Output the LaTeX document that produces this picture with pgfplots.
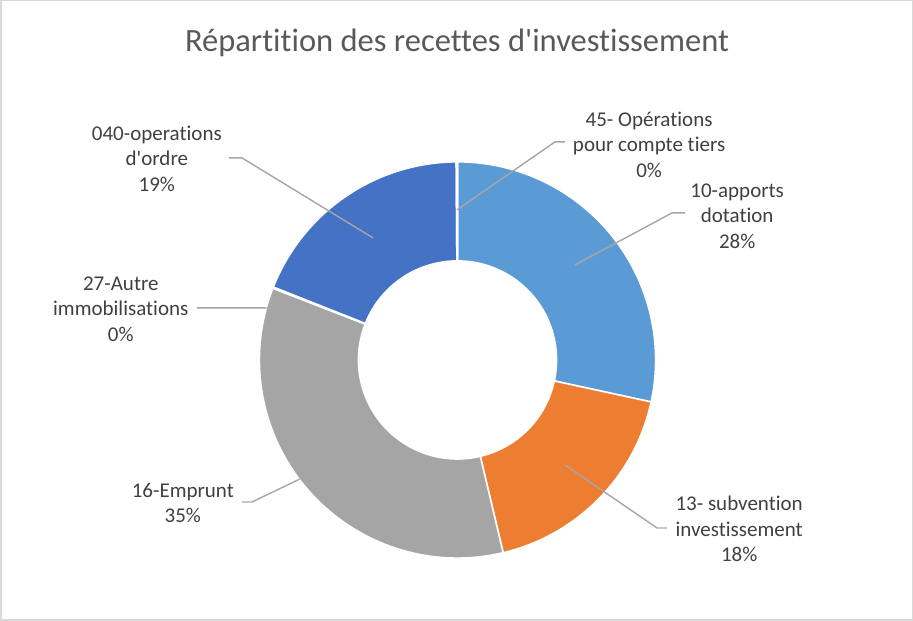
\documentclass[border=0pt]{standalone}
\usepackage{pgfplots}
\pgfplotsset{compat=1.18}
\usetikzlibrary{calc}
\usepackage{fontspec}
\newfontfamily\cf{Carlito}[Ligatures={NoCommon,NoRequired,NoContextual}]
\definecolor{c1}{HTML}{5B9BD5}
\definecolor{c2}{HTML}{ED7D31}
\definecolor{c3}{HTML}{A5A5A5}
\definecolor{c4}{HTML}{FFC000}
\definecolor{c5}{HTML}{4472C4}
\definecolor{c6}{HTML}{70AD47}
\definecolor{titlec}{HTML}{595959}
\definecolor{labc}{HTML}{404040}
\definecolor{leadc}{HTML}{A6A6A6}
\definecolor{framec}{HTML}{D9D9D9}
% #1 = cumulative start (percent), #2 = value (percent), #3 = colour
\newcommand\slice[3]{%
  \fill[#3,draw=white,line width=1.6pt]
    ($(axis cs:457.5,360)+({90-3.6*#1}:198pt)$)
    arc[start angle={90-3.6*#1}, delta angle={-3.6*#2}, radius=198pt]
    -- ($(axis cs:457.5,360)+({90-3.6*(#1+#2)}:99pt)$)
    arc[start angle={90-3.6*(#1+#2)}, delta angle={3.6*#2}, radius=99pt]
    -- cycle;}
\begin{document}
\begin{tikzpicture}
\begin{axis}[scale only axis, width=913pt, height=621pt,
  xmin=0, xmax=913, ymin=0, ymax=621, y dir=reverse,
  hide axis, clip=false]
% frame
\draw[framec, line width=1.5pt] (axis cs:1,1) rectangle (axis cs:912,620);
% data: 10-apports dotation, 13- subvention investissement, 16-Emprunt,
% 27-Autre immobilisations, 040-operations d'ordre, 45- Operations pour compte tiers
\slice{0}{28.4}{c1}
\slice{28.4}{17.9}{c2}
\slice{46.3}{34.6}{c3}
\slice{80.9}{0.1}{c4}
\slice{81.0}{18.9}{c5}
\slice{99.9}{0.1}{c6}
% title
\node[anchor=base, text=titlec, font=\cf\fontsize{32.5}{38}\selectfont] at (axis cs:457,52) {Répartition des recettes d'investissement};
% leader lines
\begin{scope}[leadc, line width=1.4pt]
\draw (axis cs:565,142) -- (axis cs:555,142) -- (axis cs:457,210);
\draw (axis cs:685,213) -- (axis cs:672,213) -- (axis cs:575,265);
\draw (axis cs:667,528) -- (axis cs:657,528) -- (axis cs:565,465);
\draw (axis cs:242,502) -- (axis cs:252,502) -- (axis cs:300,479);
\draw (axis cs:197,308) -- (axis cs:265,308) -- (axis cs:318,311);
\draw (axis cs:229,158) -- (axis cs:242,158) -- (axis cs:373,238);
\end{scope}
% labels
\begin{scope}[every node/.style={align=center, text=labc, font=\cf\fontsize{21}{25.5}\selectfont, inner sep=0pt}]
\node at (axis cs:649,145) {45- Opérations\\pour compte tiers\\0\%};
\node at (axis cs:737,216) {10-apports\\dotation\\28\%};
\node at (axis cs:739,529) {13- subvention\\investissement\\18\%};
\node at (axis cs:183,503) {16-Emprunt\\35\%};
\node at (axis cs:121,309) {27-Autre\\immobilisations\\0\%};
\node at (axis cs:157,159) {040-operations\\d'ordre\\19\%};
\end{scope}
\end{axis}
\end{tikzpicture}
\end{document}
